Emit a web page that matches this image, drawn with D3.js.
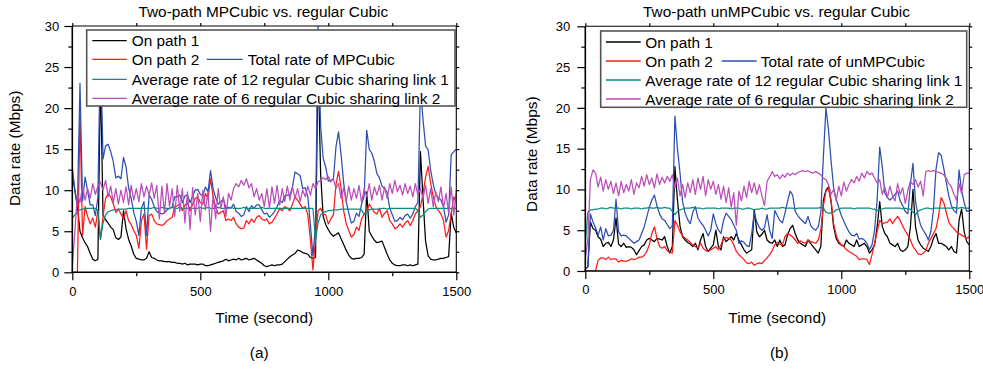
<!DOCTYPE html>
<html><head><meta charset="utf-8">
<script src="https://cdn.jsdelivr.net/npm/d3@7"></script>
<style>body{margin:0;background:#fff}svg{display:block;font-family:"Liberation Sans",Arial,sans-serif}</style>
</head><body><svg id="c" width="983" height="371"></svg>
<script>
// ---------- data ----------
const T = [0,10,20,30,40,50,60,70,80,90,100,110,120,130,140,150,160,170,180,190,200,210,220,230,240,250,260,270,280,290,
300,310,320,330,340,350,360,370,380,390,400,410,420,430,440,450,460,470,480,490,500,510,520,530,540,550,560,570,580,590,
600,610,620,630,640,650,660,670,680,690,700,710,720,730,740,750,760,770,780,790,800,810,820,830,840,850,860,870,880,890,
900,910,920,930,940,950,960,970,980,990,1000,1010,1020,1030,1040,1050,1060,1070,1080,1090,1100,1110,1120,1130,1140,1150,1160,1170,1180,1190,
1200,1210,1220,1230,1240,1250,1260,1270,1280,1290,1300,1310,1320,1330,1340,1350,1360,1370,1380,1390,1400,1410,1420,1430,1440,1450,1460,1470,1480,1490,1500];

const yMajor = [0,5,10,15,20,25,30];
const yMinor = [2.5,7.5,12.5,17.5,22.5,27.5];
const xMajor = [0,500,1000,1500];
const xMinor = [250,750,1250];

const labelPath1 = "On path 1";
const labelPath2 = "On path 2";
const labelTotalA = "Total rate of MPCubic";
const labelTotalB = "Total rate of unMPCubic";
const labelLink1 = "Average rate of 12 regular Cubic sharing link 1";
const labelLink2 = "Average rate of 6 regular Cubic sharing link 2";

// panel (a)
const aPath1 = [12,10,8,5,4.2,3.6,3.1,2.3,1.6,1.4,
1.6,24,7,6.4,6,5.5,5.2,4.2,4,4.3,
7.5,5.3,4.0,3.2,2.2,1.7,1.6,1.5,1.5,1.7,
2.5,1.8,1.7,1.5,1.4,1.4,1.3,1.3,1.3,1.2,
1.2,1.1,1.1,1.0,1.1,0.9,1.0,1.0,1.0,0.9,
1.0,1.0,0.8,0.8,0.9,1.0,1.1,1.2,1.3,1.4,
1.6,1.4,1.5,1.6,1.5,1.7,1.5,1.6,1.7,1.5,
1.6,1.7,1.5,1.3,1.1,0.8,0.7,0.8,0.9,0.8,
0.9,0.9,1.0,1.3,1.6,1.9,2.1,2.3,2.7,2.6,
2.4,2.3,2.2,1.8,1.7,1.8,26,12,6.8,5.8,
5.2,4.7,4.4,4.6,4.8,4.1,3.4,2.7,2.1,1.7,
1.6,1.7,1.7,1.8,2.2,9.8,5.0,4.4,3.9,3.6,
3.7,3.8,3.0,2.2,1.5,1.1,0.9,0.8,0.8,0.9,
0.9,0.8,0.9,0.8,0.9,1.0,14.7,9,3.8,2.0,
1.6,1.5,1.5,1.6,1.7,1.7,1.8,1.9,7.2,5.5,
4.8];
const aPath2 = [0,0,0,19,4.5,8,6.8,5.9,6.6,5.5,
7.5,4.0,6.8,9.0,9.6,9.2,8.3,7.3,7.7,7.1,
6.5,7.5,6.3,5.8,5.1,4.5,2.9,6.3,7.1,2.8,
6.9,7.1,6.3,5.9,5.8,5.7,5.9,6.3,6.5,6.7,
8.0,8.1,8.3,7.5,8.2,8.5,7.5,8.3,9.0,9.2,
8.5,8.3,9.6,9.0,11.4,9.2,8.0,7.1,7.3,7.5,
6.3,6.5,6.3,6.7,5.9,5.5,5.3,5.4,6.3,5.9,
6.5,6.1,6.7,6.9,6.5,6.3,6.5,5.9,6.1,6.6,
7.1,7.8,7.5,8.0,7.8,7.5,8.3,9.2,8.8,8.3,
7.8,8.0,7.0,4.0,0.3,4.0,7.5,7.8,7.1,7.0,
5.9,6.5,7.0,10.7,12.3,10.2,7.5,5.9,5.1,4.3,
4.6,5.5,5.1,6.5,7.1,7.5,8.3,7.8,7.3,7.1,
7.8,6.7,7.2,7.5,6.3,5.9,5.3,5.5,5.9,5.5,
6.0,6.3,5.7,6.3,7.1,7.5,8.0,9.6,11.6,12.9,
10.8,9.2,8.0,7.5,7.1,6.3,4.3,5.1,7.1,9.2,
8.5];
const aTotal = [12.8,10.0,8.0,23,8.7,11.6,9.9,8.2,8.2,6.9,
9.1,28,13.8,15.4,15.6,14.7,13.5,11.5,11.7,11.4,
14.0,12.8,10.3,9.0,7.3,6.2,4.5,7.8,8.6,4.5,
9.4,8.9,8.0,7.4,7.2,7.1,7.2,7.6,7.8,7.9,
9.2,9.2,9.4,8.5,9.3,9.4,8.5,9.3,10.0,10.1,
9.5,9.3,10.4,9.8,12.4,10.2,9.1,8.3,8.6,8.9,
7.9,7.9,7.8,8.3,7.4,7.2,6.8,7.0,8.0,7.4,
8.1,7.8,8.2,8.2,7.6,7.1,7.2,6.7,7.0,7.4,
8.0,8.7,8.5,9.3,9.4,9.4,10.4,12.2,12.0,11.8,
10.2,10.3,9.2,5.8,2.0,5.8,30,17.8,13.9,12.8,
11.1,11.2,11.4,15.3,17.1,14.3,10.9,8.6,7.2,6.0,
6.2,7.2,6.8,8.3,9.3,17.3,15.0,14.5,13.5,12.0,
11.5,10.5,10.2,9.7,7.8,7.0,6.2,6.3,6.7,6.4,
6.9,7.1,6.6,7.1,8.0,8.5,22.7,18.6,15.4,14.9,
12.4,10.7,9.5,9.1,8.8,8.0,6.1,7.0,14.3,14.7,
15.0];
const aLink1 = [6.6,7.0,7.4,7.6,7.7,7.8,7.8,7.8,7.8,7.8,
7.6,4.0,6.0,7.0,7.4,7.5,7.6,7.6,7.7,7.7,
7.7,7.7,7.8,7.8,7.8,7.8,7.8,7.8,7.8,7.8,
7.8,7.8,7.9,7.8,7.8,7.9,7.8,7.8,7.8,7.9,
7.8,7.8,7.9,7.8,7.8,7.8,7.9,7.8,7.8,7.8,
7.9,7.8,7.8,7.9,7.8,7.8,7.8,7.9,7.8,7.8,
7.8,7.8,7.9,7.8,7.8,7.8,7.8,7.9,7.8,7.8,
7.8,7.8,7.8,7.8,7.9,7.8,7.8,7.8,7.8,7.8,
7.8,7.8,7.8,7.8,7.8,7.8,7.8,7.8,7.8,7.8,
7.8,7.8,7.8,7.8,7.8,4.0,6.0,7.0,7.3,7.4,
7.5,7.5,7.6,7.6,7.6,7.7,7.7,7.7,7.7,7.7,
7.7,7.7,7.7,7.6,7.0,7.4,7.6,7.7,7.7,7.7,
7.7,7.8,7.8,7.7,7.8,7.8,7.8,7.8,7.8,7.8,
7.8,7.8,7.8,7.8,7.8,7.5,6.7,7.0,7.4,7.7,
7.8,7.8,7.8,7.8,7.8,7.8,7.8,7.8,7.8,7.8,
7.8];
const aLink2 = [0.7,5,9.5,8.5,10.5,8.8,10.2,9,10.8,9.5,
10.5,11,10,11.2,9.2,10.5,8.5,10.2,8.3,10,
8.5,10.4,8.2,10.6,8.8,10.2,8.6,10.8,9.2,10.5,
9.4,10.9,9.0,10.6,6.5,10.5,7.2,10.8,8.0,10.2,
6.8,10.6,7.4,10.2,6.0,9.8,5.2,10.3,7.0,9.6,
6.2,10.0,7.6,9.8,5.0,9.4,6.5,10.2,7.8,9.2,
6.8,9.6,8.8,10.2,10.8,10.4,11.2,10.6,11.4,10.3,
10.8,9.2,10.2,8.8,9.6,8.0,10.2,7.8,10.4,8.4,
10.6,8.2,10.2,8.6,10.5,8.8,10.4,9.0,10.2,8.6,
10.0,9.2,10.5,9.4,10.8,10.2,11.0,11.2,11.5,11.3,
11.7,11.0,11.4,10.2,10.8,9.0,10.3,8.6,10.5,8.8,
10.2,9.0,10.6,8.5,10.2,9.2,10.8,8.8,10.4,9.4,
10.6,8.8,10.4,9.0,10.8,9.6,11.2,9.8,10.6,9.4,
10.8,9.6,10.5,9.2,10.8,9.4,10.2,9.0,10.6,8.4,
10.2,8.0,9.8,8.6,10.4,7.8,9.6,7.2,10.4,7.0,
10.0];

// panel (b)
const bPath1 = [0.3,0.5,6.0,5.2,5.0,4.2,3.9,3.0,3.4,3.5,
3.0,3.8,6.5,3.3,3.0,3.4,2.9,3.0,2.9,2.6,
2.0,2.5,3.0,3.2,3.8,4.0,3.8,3.6,4.0,3.9,
3.8,4.2,3.0,2.2,3.0,12.8,8.7,5.5,4.2,3.8,
3.5,3.3,3.0,3.4,2.6,3.8,4.6,3.0,2.4,2.8,
3.2,5.0,3.0,2.6,4.2,3.6,3.9,4.2,3.8,4.6,
3.8,3.2,2.6,2.2,2.4,2.6,7.5,4.8,4.2,4.5,
5.0,3.8,3.5,3.4,3.8,3.0,3.8,3.0,3.2,4.4,
5.2,5.6,4.6,3.8,3.4,3.2,3.0,3.8,3.4,3.0,
2.6,2.2,3.0,8.7,9.9,10.3,8.5,5.4,4.0,3.4,
3.2,3.0,3.8,3.4,3.2,3.0,3.8,3.0,3.2,3.4,
3.0,2.2,2.6,3.2,5.4,8.5,5.5,4.6,4.2,3.4,
3.2,3.0,3.4,2.6,2.4,2.6,3.0,5.4,10.0,5.4,
3.8,3.2,2.8,2.6,2.4,3.0,4.0,4.6,3.4,3.4,
3.2,3.0,2.6,3.0,2.4,2.2,6.2,7.6,4.8,3.6,
3.2];
const bPath2 = [0,0,0,0,0,1.3,1.6,1.6,1.4,1.7,
1.4,1.5,1.5,1.1,1.3,1.2,1.2,1.3,1.5,1.4,
1.5,1.7,1.7,1.9,2.4,3.2,4.6,5.4,4.0,3.0,
2.8,3.0,2.5,2.3,2.2,6.2,5.6,4.8,4.3,4.0,
3.8,3.5,3.2,3.0,2.8,3.4,2.8,2.5,2.4,2.6,
2.8,3.0,2.6,3.2,4.0,4.1,4.0,3.8,3.2,2.4,
2.0,1.7,1.4,1.0,0.9,1.1,0.7,0.9,1.0,0.9,
1.3,1.6,2.0,2.5,3.2,3.5,3.3,3.2,4.2,4.6,
4.4,4.2,3.8,3.4,3.7,3.5,3.4,3.8,3.6,3.5,
3.4,3.8,5.0,8.0,9.8,10.1,8.7,5.8,4.4,3.6,
3.2,3.0,2.6,2.4,2.2,2.0,1.8,1.4,1.5,1.5,
1.4,0.8,2.0,3.4,4.8,6.2,5.8,5.9,6.0,6.4,
5.8,6.3,6.7,6.2,5.5,4.9,4.4,3.8,3.0,2.6,
2.1,2.0,2.2,2.5,3.4,4.0,4.6,5.2,6.8,9.0,
8.4,7.2,6.0,5.5,5.2,4.8,4.6,4.4,4.2,4.0,
4.2];
const bTotal = [0.2,0.5,7.0,6.0,5.3,4.4,5.4,3.8,5.2,4.3,
4.4,5.0,8.8,4.8,4.3,4.4,4.3,4.0,3.7,3.4,
3.6,3.8,4.6,5.4,6.6,7.8,8.7,9.3,8.0,7.0,
6.4,6.2,5.7,5.2,5.5,19.0,15.0,12.0,8.5,7.1,
6.3,5.8,7.2,7.9,6.5,6.0,5.6,5.0,4.3,5.0,
7.0,5.8,5.0,4.6,6.2,7.1,6.7,6.3,5.6,5.0,
3.4,3.7,3.5,3.1,3.0,4.6,7.2,6.0,5.3,5.0,
5.3,6.9,5.0,4.0,7.4,6.8,6.2,5.9,7.1,8.5,
9.8,9.3,7.3,6.8,6.4,6.1,5.8,6.7,5.6,5.2,
5.0,5.4,7.2,14.0,20.0,17.3,13.5,10.2,8.8,7.8,
6.8,6.1,5.4,4.8,4.4,4.3,4.6,3.9,4.0,3.8,
3.4,2.6,3.2,5.0,8.7,15.2,12.8,9.6,9.0,8.7,
9.0,9.4,9.8,8.6,8.0,7.3,7.0,10.7,13.2,8.5,
6.8,5.6,5.0,4.5,3.8,4.9,7.5,12.5,14.5,14.2,
12.6,10.9,9.2,8.0,7.4,7.1,12.4,9.8,8.4,7.3,
7.4];
const bLink1 = [3.4,7.2,7.5,7.5,7.6,7.6,7.7,7.7,7.6,7.7,
7.8,7.7,7.7,7.7,7.6,7.7,7.7,7.7,7.6,7.7,
7.7,7.7,7.6,7.7,7.7,7.8,7.7,7.7,7.8,7.7,
7.7,7.8,7.7,7.7,7.3,6.9,7.3,7.5,7.6,7.7,
7.7,7.7,7.8,7.7,7.7,7.7,7.6,7.7,7.7,7.7,
7.7,7.7,7.6,7.7,7.7,7.7,7.7,7.6,7.7,7.7,
7.7,7.6,7.6,7.7,7.7,7.6,7.5,7.6,7.6,7.7,
7.6,7.6,7.7,7.7,7.7,7.7,7.7,7.8,7.7,7.7,
7.7,7.7,7.6,7.7,7.7,7.7,7.7,7.7,7.7,7.7,
7.7,7.7,7.8,7.7,7.2,7.1,7.1,7.2,7.5,7.6,
7.7,7.7,7.7,7.7,7.7,7.6,7.7,7.7,7.7,7.7,
7.7,7.7,7.6,7.6,7.4,7.5,7.6,7.7,7.7,7.7,
7.7,7.7,7.7,7.7,7.6,7.7,7.6,7.6,7.2,6.9,
7.3,7.5,7.6,7.7,7.7,7.6,7.7,7.7,7.7,7.7,
7.7,7.7,7.7,7.7,7.8,7.7,7.7,7.8,7.7,7.7,
7.7];
const bLink2 = [1.5,4,11.2,12.4,12.0,10.3,11.5,9.8,11.2,10.0,
11.0,9.5,10.8,9.2,11.0,9.6,10.6,9.8,11.2,9.4,
10.8,10.2,11.6,10.4,11.8,10.6,11.4,10.2,11.9,10.6,
11.5,10.8,11.6,11.0,11.8,10.2,11.4,9.2,10.6,9.0,
10.8,9.6,11.2,9.4,11.4,10.0,11.6,9.2,11.2,10.0,
11.0,9.4,10.6,8.8,10.4,8.4,10.2,7.8,9.6,5.6,
9.8,8.6,10.4,9.0,11.0,9.6,10.8,9.4,10.6,9.2,
8.0,11.0,11.5,12.2,11.6,11.8,11.3,11.8,11.5,12.0,
11.7,12.0,11.8,12.1,12.2,12.3,12.2,12.3,12.1,12.0,
12.2,12.0,11.8,11.4,11.2,10.6,9.4,10.0,8.6,10.4,
9.2,10.9,9.8,10.6,11.2,10.8,11.6,11.0,12.0,11.4,
12.2,11.8,12.0,11.4,10.8,11.2,9.4,10.3,9.0,10.4,
9.2,8.6,10.7,9.4,10.2,8.3,9.9,11.0,10.6,11.2,
10.3,11.0,9.2,12.2,12.3,12.2,12.3,12.2,12.1,12.0,
11.8,11.4,10.7,10.3,9.4,8.7,10.7,9.5,11.8,12.0,
12.0];

// ---------- styles ----------
const C_BLACK = "#000000", C_RED = "#ff1a1a", C_BLUE = "#2d4fb0", C_TEAL = "#0b8b80", C_MAG = "#b94db9";
const FONT = 15.4;

const svg = d3.select("#c");

function panel(p){
  const x = d3.scaleLinear().domain([0,1500]).range([p.x0,p.x1]);
  const y = d3.scaleLinear().domain([0,30]).range([p.y0,p.y1]);
  const g = svg.append("g");
  const clipId = "clip" + p.id;
  svg.append("clipPath").attr("id", clipId).append("rect")
    .attr("x", p.x0).attr("y", p.y1).attr("width", p.x1 - p.x0).attr("height", p.y0 - p.y1);
  const line = d3.line().x((d,i) => x(T[i])).y(d => y(d));
  const lg = g.append("g").attr("clip-path", `url(#${clipId})`);
  p.series.forEach(s => {
    lg.append("path").attr("d", line(s.values)).attr("fill","none")
      .attr("stroke", s.color).attr("stroke-width", 1.25).attr("stroke-linejoin","round");
  });

  // axes
  const styleAxis = (sel) => {
    sel.select(".domain").remove();
    sel.selectAll(".tick line").attr("stroke","#000").attr("stroke-width",1.2);
    sel.selectAll("text").attr("font-size",13).attr("fill","#000").attr("font-family",'"Liberation Sans",Arial,sans-serif');
  };
  g.append("g").attr("transform",`translate(${p.x0},0)`)
    .call(d3.axisLeft(y).tickValues(yMajor).tickSize(8).tickPadding(p.yPad).tickFormat(d3.format("d"))).call(styleAxis);
  g.append("g").attr("transform",`translate(${p.x0},0)`)
    .call(d3.axisLeft(y).tickValues(yMinor).tickSize(4).tickFormat("")).call(styleAxis);
  g.append("g").attr("transform",`translate(0,${p.y0})`)
    .call(d3.axisBottom(x).tickValues(xMajor).tickSize(8).tickPadding(6).tickFormat(d3.format("d"))).call(styleAxis);
  g.append("g").attr("transform",`translate(0,${p.y0})`)
    .call(d3.axisBottom(x).tickValues(xMinor).tickSize(4).tickFormat("")).call(styleAxis);
  g.append("g").attr("transform",`translate(0,${p.y1})`)
    .call(d3.axisTop(x).tickValues(xMajor.concat(xMinor)).tickSize(3).tickFormat("")).call(styleAxis);
  g.append("g").attr("transform",`translate(${p.x1},0)`)
    .call(d3.axisRight(y).tickValues(yMajor.concat(yMinor)).tickSize(3).tickFormat("")).call(styleAxis);

  // frame
  g.append("line").attr("x1",p.x0).attr("x2",p.x1).attr("y1",p.y1).attr("y2",p.y1).attr("stroke","#000").attr("stroke-width",1.1);
  g.append("line").attr("x1",p.x1).attr("x2",p.x1).attr("y1",p.y1).attr("y2",p.y0).attr("stroke","#000").attr("stroke-width",1.1);
  g.append("line").attr("x1",p.x0).attr("x2",p.x0).attr("y1",p.y1).attr("y2",p.y0+0.8).attr("stroke","#000").attr("stroke-width",1.6);
  g.append("line").attr("x1",p.x0-0.8).attr("x2",p.x1+0.5).attr("y1",p.y0).attr("y2",p.y0).attr("stroke","#000").attr("stroke-width",1.6);

  // legend
  const L = p.legend;
  g.append("rect").attr("x",L.x0).attr("y",L.y0).attr("width",L.x1-L.x0).attr("height",L.y1-L.y0)
    .attr("fill","#fff").attr("stroke","#555").attr("stroke-width",1.6);
  const entries = [
    {row:0, sx:L.sx, tx:L.tx, color:C_BLACK, label:labelPath1},
    {row:1, sx:L.sx, tx:L.tx, color:C_RED, label:labelPath2},
    {row:1, sx:L.bsx, tx:L.btx, color:C_BLUE, label:p.totalLabel},
    {row:2, sx:L.sx, tx:L.tx, color:C_TEAL, label:labelLink1},
    {row:3, sx:L.sx, tx:L.tx, color:C_MAG, label:labelLink2}
  ];
  entries.forEach(e => {
    const yy = L.rows[e.row];
    g.append("line").attr("x1",e.sx[0]).attr("x2",e.sx[1]).attr("y1",yy).attr("y2",yy)
      .attr("stroke",e.color).attr("stroke-width",1.3);
    g.append("text").attr("x",e.tx).attr("y",yy).attr("dy","0.36em")
      .attr("font-size",FONT).attr("fill","#000").text(e.label);
  });

  // titles
  g.append("text").attr("x",p.titleX).attr("y",17).attr("text-anchor","middle")
    .attr("font-size",FONT).text(p.title);
  g.append("text").attr("x",p.xlabX).attr("y",323).attr("text-anchor","middle")
    .attr("font-size",FONT).text("Time (second)");
  g.append("text").attr("transform",`translate(${p.ylabX},${p.ylabY}) rotate(-90)`).attr("text-anchor","middle")
    .attr("font-size",FONT).text("Data rate (Mbps)");
  g.append("text").attr("x",p.capX).attr("y",358).attr("text-anchor","middle")
    .attr("font-size",FONT).text(p.caption);
}

panel({
  id:"a", x0:72.3, x1:456.3, y0:272.3, y1:26, yPad:5,
  title:"Two-path MPCubic vs. regular Cubic", titleX:263.3,
  xlabX:264.2, ylabX:20, ylabY:148.3, capX:259.2, caption:"(a)",
  totalLabel: labelTotalA,
  legend:{x0:86.7, x1:455, y0:30, y1:106, rows:[40.7,59.3,79.3,98.3],
    sx:[92.3,126.7], tx:131.7, bsx:[206.7,242.7], btx:247.7},
  series:[
    {values:aPath1, color:C_BLACK},
    {values:aPath2, color:C_RED},
    {values:aTotal, color:C_BLUE},
    {values:aLink1, color:C_TEAL},
    {values:aLink2, color:C_MAG}
  ]
});
panel({
  id:"b", x0:585.3, x1:969.3, y0:271, y1:26.3, yPad:7,
  title:"Two-path unMPCubic vs. regular Cubic", titleX:776.5,
  xlabX:777.2, ylabX:537, ylabY:154.2, capX:779.3, caption:"(b)",
  totalLabel: labelTotalB,
  legend:{x0:600.7, x1:966.7, y0:31, y1:107.3, rows:[42,61,80,99],
    sx:[606,640.7], tx:645.3, bsx:[721.7,756.7], btx:760.7},
  series:[
    {values:bPath1, color:C_BLACK},
    {values:bPath2, color:C_RED},
    {values:bTotal, color:C_BLUE},
    {values:bLink1, color:C_TEAL},
    {values:bLink2, color:C_MAG}
  ]
});
</script></body></html>
